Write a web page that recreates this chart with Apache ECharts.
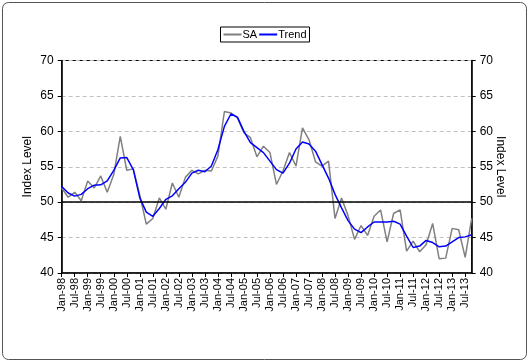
<!DOCTYPE html>
<html>
<head>
<meta charset="utf-8">
<script src="https://cdn.jsdelivr.net/npm/echarts@6/dist/echarts.min.js"></script>
<style>html,body{margin:0;padding:0;background:#fff}#c{width:530px;height:364px}</style>
</head>
<body>
<div id="c"></div>
<script>
var years = ['98','99','00','01','02','03','04','05','06','07','08','09','10','11','12','13'];
var quarterMonths = ['Jan','Apr','Jul','Oct'];
var categories = [];
years.forEach(function(y){ quarterMonths.forEach(function(m){ categories.push(m + '-' + y); }); });

var saValues = [52.0,50.7,51.4,50.2,53.0,52.0,53.7,51.4,53.9,59.3,54.5,54.7,51.0,46.9,47.7,50.6,
  49.0,52.7,50.7,53.5,54.5,54.0,54.5,54.4,56.5,62.8,62.6,61.9,59.8,59.1,56.4,57.9,
  57.0,52.5,54.4,57.0,55.1,60.5,58.8,55.7,55.1,55.8,47.7,50.6,48.1,44.75,46.7,45.3,
  48.0,48.9,44.4,48.4,48.9,43.1,44.5,43.0,44.0,47.0,42.0,42.1,46.3,46.1,42.2,47.7];
var trendValues = [52.2,51.3,50.85,51.1,51.9,52.4,52.45,53.0,54.5,56.25,56.3,54.6,50.6,48.6,48.0,49.1,
  50.4,50.9,51.9,52.8,54.1,54.5,54.3,55.1,57.4,60.7,62.45,62.0,60.0,58.4,57.7,57.0,
  55.8,54.6,54.1,55.5,57.5,58.5,58.2,57.2,55.3,53.4,51.1,49.2,47.4,46.2,45.7,46.5,
  47.2,47.2,47.2,47.3,46.9,45.2,43.6,43.8,44.6,44.3,43.7,43.8,44.4,45.0,45.1,45.4];
var seriesNames = ['SA','Trend'];
var axisName = 'Index Level';

var font = 'Liberation Sans, Arial, sans-serif';
var chart = echarts.init(document.getElementById('c'), null, {renderer:'canvas'});
var yAxisBase = {
  type:'value', min:40, max:70, interval:5, name:axisName, nameLocation:'middle',
  nameMoveOverlap:false,
  nameTextStyle:{color:'#000', fontFamily:font, fontSize:12},
  axisLine:{show:true, lineStyle:{color:'#000', width:1.5}},
  axisTick:{show:true, length:4, lineStyle:{color:'#000'}},
  axisLabel:{color:'#000', fontFamily:font, fontSize:12, margin:8}
};
chart.setOption({
  animation:false,
  textStyle:{fontFamily:font},
  graphic:[{type:'rect', shape:{x:2.5,y:2.5,width:524,height:357,r:6}, style:{fill:'none', stroke:'#555', lineWidth:1}, z:-1}],
  legend:{
    data:seriesNames, top:27, left:'center', orient:'horizontal',
    borderColor:'#000', borderWidth:1, padding:[2,3,2,3], itemGap:2,
    itemWidth:18, itemHeight:2, icon:'rect',
    textStyle:{color:'#000', fontFamily:font, fontSize:11, padding:[0,0,0,-4]}
  },
  grid:{left:61.7, right:58.3, top:60.5, bottom:91, show:true, borderColor:'#000', borderWidth:1, containLabel:false},
  xAxis:{
    type:'category', data:categories, boundaryGap:false,
    axisLine:{lineStyle:{color:'#000', width:1.5}},
    axisTick:{show:true, interval:1, length:4, lineStyle:{color:'#000'}},
    axisLabel:{interval:1, rotate:90, color:'#000', fontFamily:font, fontSize:11, margin:5},
    splitLine:{show:false}
  },
  yAxis:[
    Object.assign({}, yAxisBase, {position:'left', nameGap:28, nameRotate:90,
      splitLine:{show:true, lineStyle:{color:'#c0c0c0', type:[4,3], width:1}}}),
    Object.assign({}, yAxisBase, {position:'right', nameGap:23, nameRotate:-90,
      splitLine:{show:false}})
  ],
  series:[
    {name:seriesNames[0], type:'line', data:saValues, symbol:'none', lineStyle:{color:'#808080', width:1.5}, itemStyle:{color:'#808080'}, z:2,
     markLine:{silent:true, symbol:'none', label:{show:false}, lineStyle:{color:'#000', type:'solid', width:1.5}, data:[{yAxis:50}]}},
    {name:seriesNames[1], type:'line', data:trendValues, symbol:'none', lineStyle:{color:'#0000ff', width:1.5}, itemStyle:{color:'#0000ff'}, z:3}
  ]
});
</script>
</body>
</html>
